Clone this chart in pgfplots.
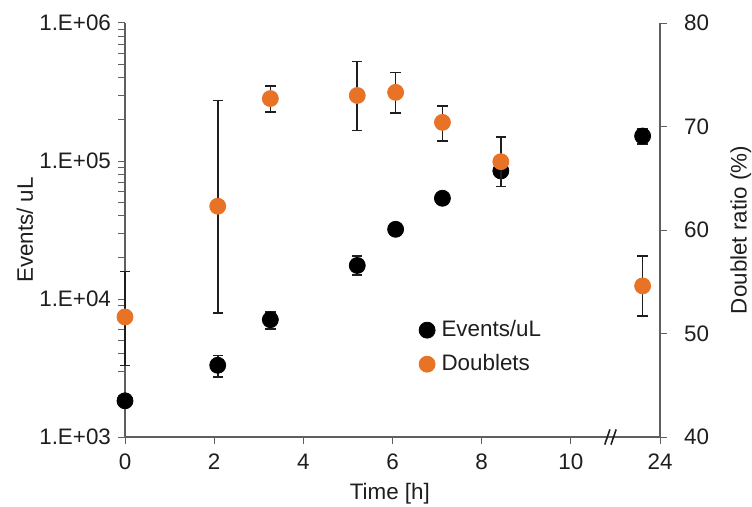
\documentclass[border=0pt]{standalone}
\usepackage{fontspec}
\setmainfont{Liberation Sans}
\usepackage{pgfplots}
\usepackage{pgfplotstable}
\pgfplotsset{compat=1.18}
\definecolor{dotorange}{RGB}{232,114,38}
\definecolor{axgray}{RGB}{95,95,95}
\definecolor{txt}{RGB}{30,30,30}

% time [h] (24 h drawn at 11.6 after the break), value, +err, -err
\pgfplotstableread{
x     y      ep     em
0.00  1830   150    150
2.08  3310   590    590
3.26  7080   970    1010
5.21  17500  2900   2600
6.07  32000  1500   1500
7.12  53700  2000   2000
8.43  84700  6000   6000
11.61 151700 19000  18700
}\events

\pgfplotstableread{
x     y     ep    em
0.00  51.6  4.4   4.7
2.08  62.3  10.2  10.3
3.26  72.7  1.2   1.3
5.21  73.0  3.3   3.4
6.07  73.3  1.9   2.0
7.12  70.4  1.6   1.8
8.43  66.6  2.4   2.4
11.61 54.6  2.9   2.9
}\doublets

\newcommand{\lblfont}{\fontsize{11.2}{13}\selectfont}
\pgfplotsset{
  base/.style={
    scale only axis, width=267.5pt, height=207pt,
    xmin=0, xmax=12, clip=false,
    axis line style={axgray, line width=0.6pt},
    tick style={axgray, line width=0.5pt},
    tick align=outside,
    major tick length=3.5pt, minor tick length=3.5pt,
    tick label style={font=\lblfont, text=txt},
    /pgf/number format/assume math mode=true,
    error bars/error bar style={txt, line width=0.8pt},
    error bars/error mark options={txt, rotate=90, mark size=2.6pt, line width=0.8pt},
  },
}

\begin{document}
\begin{tikzpicture}
\begin{axis}[base, name=ax,
  ymode=log, ymin=1e3, ymax=1e6,
  axis y line*=left, axis x line*=bottom,
  xtick={0,2,4,6,8,10,12}, xticklabels={0,2,4,6,8,10,24},
  xticklabel style={yshift=-1.5pt},
  ytick={1e3,1e4,1e5,1e6},
  yticklabels={1.E+03,1.E+04,1.E+05,1.E+06},
  xlabel={Time [h]}, ylabel={Events/ uL},
  every axis x label/.style={at={(axis description cs:0.495,-0.137)}, anchor=center,
    font=\lblfont, text=txt},
  every axis y label/.style={at={(axis description cs:-0.187,0.5)}, anchor=center, rotate=90,
    font=\lblfont, text=txt},
]
\addplot[only marks, mark=*, mark size=4pt, black,
  error bars/.cd, y dir=both, y explicit]
  table[x=x, y=y, y error plus=ep, y error minus=em] {\events};
% axis break
\draw[txt, line width=0.8pt, shift={(axis cs:10.85,1000)}] (-2pt,-3.8pt) -- (0.6pt,3.8pt);
\draw[txt, line width=0.8pt, shift={(axis cs:10.99,1000)}] (-2pt,-3.8pt) -- (0.6pt,3.8pt);
\end{axis}

\begin{axis}[base,
  ymin=40, ymax=80, ytick={40,50,...,80},
  axis y line*=right, axis x line=none,
  yticklabel style={xshift=5pt},
  ylabel={Doublet ratio (\%)},
  every axis y label/.style={at={(axis description cs:1.151,0.5)}, anchor=center, rotate=90,
    font=\lblfont, text=txt},
  legend image code/.code={\draw[mark repeat=1, only marks, #1] plot coordinates {(0pt,0pt)};},
  legend style={at={(rel axis cs:0.549,0.217)}, anchor=west, draw=none, fill=none,
    font=\lblfont, text=txt, row sep=5pt, inner sep=0pt,
    nodes={inner sep=1.2pt}},
  legend cell align=left,
]
\addlegendimage{only marks, mark=*, mark size=4pt, black}
\addlegendentry{\hspace{2pt}Events/uL}
\addplot[only marks, mark=*, mark size=4pt, dotorange,
  error bars/.cd, y dir=both, y explicit]
  table[x=x, y=y, y error plus=ep, y error minus=em] {\doublets};
\addlegendentry{\hspace{2pt}Doublets}
\end{axis}
\pgfresetboundingbox
\path ([xshift=-62.5pt, yshift=-34.5pt]ax.south west) rectangle ([xshift=46pt, yshift=11.5pt]ax.north east);
\end{tikzpicture}
\end{document}
